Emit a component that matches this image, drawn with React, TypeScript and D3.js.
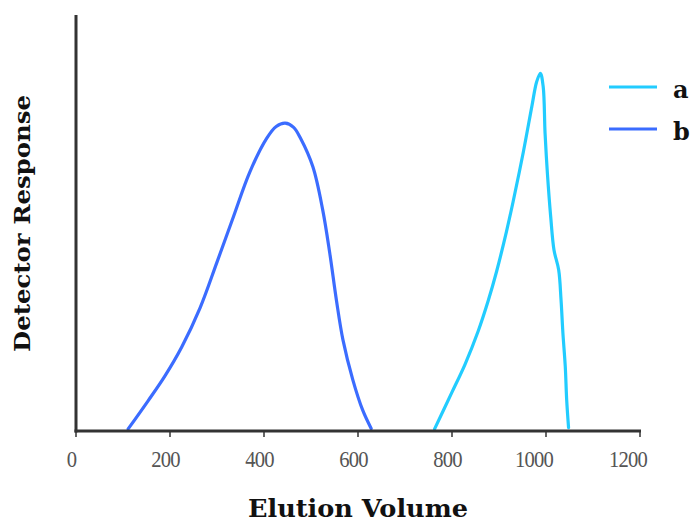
import React from "react";
import * as d3 from "d3";

const xTicks = [0, 200, 400, 600, 800, 1000, 1200];
const seriesNames = ["a", "b"];
const seriesColors = ["#22ccff", "#3b6cff"];

const aVolume = [763, 799, 828, 856, 877, 895, 916, 930, 952, 970, 980, 988, 994, 998, 1003, 1010, 1017, 1027, 1032, 1036, 1041, 1044, 1048];
const aResponse = [0.5, 9.1, 16.1, 24.1, 31.3, 38.4, 48, 55.1, 67.2, 78.1, 83.9, 86, 82.8, 71.6, 61.9, 51.5, 43.5, 38.7, 31.5, 23.5, 15.5, 7.5, 0.8];

const bVolume = [111, 153, 189, 225, 264, 300, 334, 370, 406, 426, 445, 463, 478, 504, 525, 540, 554, 568, 589, 610, 628];
const bResponse = [0.5, 7.2, 13.2, 20.2, 29.6, 40.6, 51.2, 62.3, 70.4, 73.2, 74, 73, 70.3, 63.5, 53.1, 42.7, 31.5, 21.9, 12.3, 5, 0.6];

export default function App() {
  const W = 691, H = 522;
  const x = d3.scaleLinear().domain([0, 1200]).range([76, 640]);
  const y = d3.scaleLinear().domain([0, 100]).range([431, 15]);
  const line = d3
    .line<[number, number]>()
    .x((d) => x(d[0]))
    .y((d) => y(d[1]))
    .curve(d3.curveCatmullRom.alpha(0.5));
  const aData = aVolume.map((v, i) => [v, aResponse[i]] as [number, number]);
  const bData = bVolume.map((v, i) => [v, bResponse[i]] as [number, number]);
  const series = [aData, bData];
  const slab = "DejaVu Serif";

  return (
    <svg width={W} height={H} style={{ position: "absolute", left: 0, top: 0, background: "#fff" }}>
      {series.map((d, i) => (
        <path key={i} d={line(d) || ""} fill="none" stroke={seriesColors[i]} strokeWidth={3.2} strokeLinejoin="round" strokeLinecap="round" />
      ))}
      <line x1={x(0)} x2={x(0)} y1={y(100)} y2={y(0) + 1.5} stroke="#333" strokeWidth={3} />
      <line x1={x(0) - 1.5} x2={x(1200) + 1} y1={y(0)} y2={y(0)} stroke="#333" strokeWidth={3} />
      {xTicks.map((t) => {
        const cx = x(t) + (t >= 1000 ? -12 : -4.5);
        return (
          <g key={t}>
            <line x1={x(t)} x2={x(t)} y1={y(0)} y2={y(0) + 6} stroke="#333" strokeWidth={1.5} />
            <text
              x={0}
              y={0}
              transform={`translate(${cx},467) scale(0.86,1)`}
              textAnchor="middle"
              fontFamily="Liberation Serif"
              fontSize={24}
              fill="#555"
              letterSpacing={-1}
            >
              {t}
            </text>
          </g>
        );
      })}
      <text x={358} y={517} textAnchor="middle" fontFamily={slab} fontWeight="bold" fontSize={24} fill="#111" textLength={220} lengthAdjust="spacingAndGlyphs">
        Elution Volume
      </text>
      <text transform="translate(30,223.5) rotate(-90)" textAnchor="middle" fontFamily={slab} fontWeight="bold" fontSize={22} fill="#111" textLength={257} lengthAdjust="spacingAndGlyphs">
        Detector Response
      </text>
      {seriesNames.map((n, i) => (
        <g key={n}>
          <line x1={609} x2={657} y1={87 + i * 42} y2={87 + i * 42} stroke={seriesColors[i]} strokeWidth={3} />
          <text x={673} y={98 + i * 42} fontFamily={slab} fontWeight="bold" fontSize={24} fill="#111">
            {n}
          </text>
        </g>
      ))}
    </svg>
  );
}
